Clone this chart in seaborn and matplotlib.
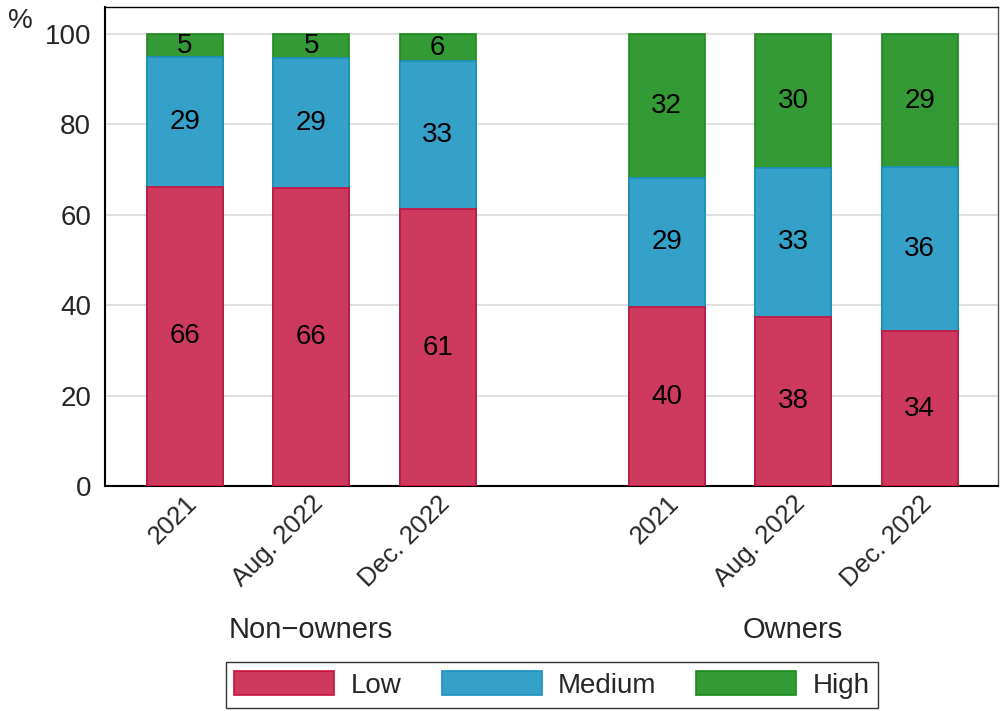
import numpy as np
import pandas as pd
import matplotlib
matplotlib.use("Agg")
import matplotlib.pyplot as plt
import matplotlib.transforms as mtrans
import seaborn as sns
from matplotlib.patches import Patch

# ---- data ----
groups = ["Non\u2212owners", "Owners"]
periods = ["2021", "Aug. 2022", "Dec. 2022"]
levels = ["Low", "Medium", "High"]
low = [66.2, 65.9, 61.2, 39.6, 37.5, 34.2]
medium = [28.7, 28.8, 32.8, 28.6, 32.9, 36.4]
high = [5.1, 5.3, 6.0, 31.8, 29.6, 29.4]
y_ticks = [0, 20, 40, 60, 80, 100]

# ---- style ----
sns.set_style("white")
plt.rcParams["font.family"] = ["Liberation Sans", "DejaVu Sans"]

face = {"Low": "#CE3A5E", "Medium": "#35A1C9", "High": "#339A35"}
edge = {"Low": "#C8103E", "Medium": "#1A90C2", "High": "#1A8A1A"}

gap = 1.81
pos = []
for g in range(len(groups)):
    for i in range(len(periods)):
        pos.append(g * (len(periods) - 1 + gap) + i)
pos = np.array(pos)

df = pd.DataFrame({"x": pos, "Low": low, "Medium": medium, "High": high})
df["c_low"] = df["Low"]
df["c_med"] = df["Low"] + df["Medium"]
df["c_high"] = df["c_med"] + df["High"]

fig = plt.figure(figsize=(10, 7.11), dpi=100)
ax = fig.add_axes([0.105, 1 - 486 / 711, 0.998 - 0.105, (486 - 7) / 711])

for col, lev in [("c_high", "High"), ("c_med", "Medium"), ("c_low", "Low")]:
    sns.barplot(data=df, x="x", y=col, native_scale=True, color=face[lev],
                edgecolor=edge[lev], linewidth=1.2, width=0.6, saturation=1,
                errorbar=None, ax=ax, zorder=3)

FS = 20
# segment labels
bottoms = np.zeros(len(pos))
for lev in levels:
    vals = df[lev].to_numpy()
    for x, b, v in zip(pos, bottoms, vals):
        ax.text(x, b + v / 2, f"{v:.0f}", ha="center", va="center",
                fontsize=FS, color="black", zorder=5)
    bottoms = bottoms + vals

ax.set_ylim(0, 106)
ax.set_xlim(-0.63, pos[-1] + 0.62)
ax.set_yticks(y_ticks)
ax.set_yticklabels([str(t) for t in y_ticks], fontsize=FS)
ax.set_xticks(pos)
ax.set_xticklabels(periods * len(groups), rotation=45, ha="right",
                   rotation_mode="anchor", fontsize=18.5)
shift = mtrans.ScaledTranslation(-8 / 100, 0, fig.dpi_scale_trans)
for lbl in ax.get_xticklabels():
    lbl.set_transform(lbl.get_transform() + shift)
ax.tick_params(axis="x", length=0, pad=4)
ax.tick_params(axis="y", length=6, width=1.2, color="black", pad=4)
ax.set_xlabel("")
ax.set_ylabel("")
ax.set_axisbelow(True)
ax.yaxis.grid(True, color="#E0E0E0", linewidth=1.5, zorder=0)
ax.xaxis.grid(False)
for s in ["left", "bottom"]:
    ax.spines[s].set_color("black")
    ax.spines[s].set_linewidth(1.5)
ax.spines["top"].set_color("black")
ax.spines["top"].set_linewidth(1.0)
ax.spines["right"].set_color("#555555")
ax.spines["right"].set_linewidth(1.0)

# group labels
trans = mtrans.blended_transform_factory(ax.transData, fig.transFigure)
n = len(periods)
for g, name in enumerate(groups):
    cx = pos[g * n:(g + 1) * n].mean()
    ax.text(cx, 1 - 630 / 711, name, transform=trans, ha="center", va="center",
            fontsize=21)

fig.text(8 / 1000, 1 - 8 / 711, "%", ha="left", va="top", fontsize=FS)

handles = [Patch(facecolor=face[l], edgecolor=edge[l], linewidth=1.2, label=l) for l in levels]
leg = fig.legend(handles=handles, loc="center", bbox_to_anchor=(552 / 1000, 1 - 685 / 711),
                 ncol=3, frameon=True, fancybox=False, fontsize=FS,
                 handlelength=3.6, handleheight=0.95, handletextpad=0.58,
                 columnspacing=1.45, borderpad=0.32)
leg.get_frame().set_edgecolor("black")
leg.get_frame().set_linewidth(1.0)

fig.savefig("out.png", dpi=100)
